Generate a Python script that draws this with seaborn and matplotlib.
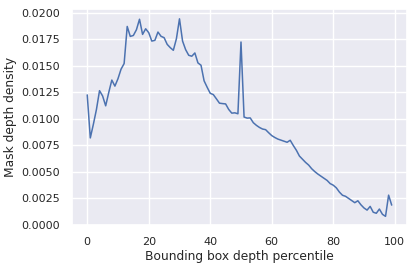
import numpy as np
import pandas as pd
import matplotlib
matplotlib.use("Agg")
import matplotlib.pyplot as plt
import seaborn as sns

percentile = list(range(100))
density = [
    0.01227, 0.00821, 0.00950, 0.01090, 0.01267, 0.01217, 0.01124, 0.01250, 0.01367, 0.01310,
    0.01380, 0.01470, 0.01523, 0.01873, 0.01779, 0.01788, 0.01842, 0.01941, 0.01798, 0.01851,
    0.01814, 0.01735, 0.01742, 0.01820, 0.01780, 0.01767, 0.01704, 0.01673, 0.01648, 0.01757,
    0.01945, 0.01735, 0.01654, 0.01601, 0.01592, 0.01623, 0.01529, 0.01507, 0.01360, 0.01299,
    0.01242, 0.01230, 0.01190, 0.01149, 0.01145, 0.01142, 0.01090, 0.01055, 0.01058, 0.01049,
    0.01726, 0.01018, 0.01008, 0.01010, 0.00965, 0.00940, 0.00920, 0.00905, 0.00899, 0.00870,
    0.00843, 0.00825, 0.00810, 0.00800, 0.00790, 0.00780, 0.00799, 0.00750, 0.00705, 0.00650,
    0.00620, 0.00590, 0.00565, 0.00530, 0.00503, 0.00480, 0.00460, 0.00440, 0.00420, 0.00390,
    0.00375, 0.00350, 0.00310, 0.00280, 0.00270, 0.00250, 0.00230, 0.00210, 0.00228, 0.00190,
    0.00160, 0.00140, 0.00175, 0.00120, 0.00110, 0.00150, 0.00100, 0.00081, 0.00281, 0.00187,
]

sns.set_theme(style="darkgrid")
plt.rcParams['font.family'] = ['DejaVu Sans']

df = pd.DataFrame({"x": percentile, "y": density})

fig = plt.figure(figsize=(4.15, 2.71), dpi=100)
ax = fig.add_axes([0.1735, 0.17, 0.807, 0.797])
sns.lineplot(data=df, x="x", y="y", ax=ax, linewidth=1.1)
ax.set_ylim(bottom=0)
ax.set_yticks(np.arange(0, 0.0201, 0.0025))
ax.set_yticklabels(["%.4f" % t for t in np.arange(0, 0.0201, 0.0025)])
ax.set_xticks([0, 20, 40, 60, 80, 100])
ax.tick_params(labelsize=8, pad=2.5)
ax.set_xlabel("Bounding box depth percentile", fontsize=8.8, labelpad=2)
ax.set_ylabel("Mask depth density", fontsize=8.8, labelpad=3)

fig.savefig("out.png", dpi=100)
